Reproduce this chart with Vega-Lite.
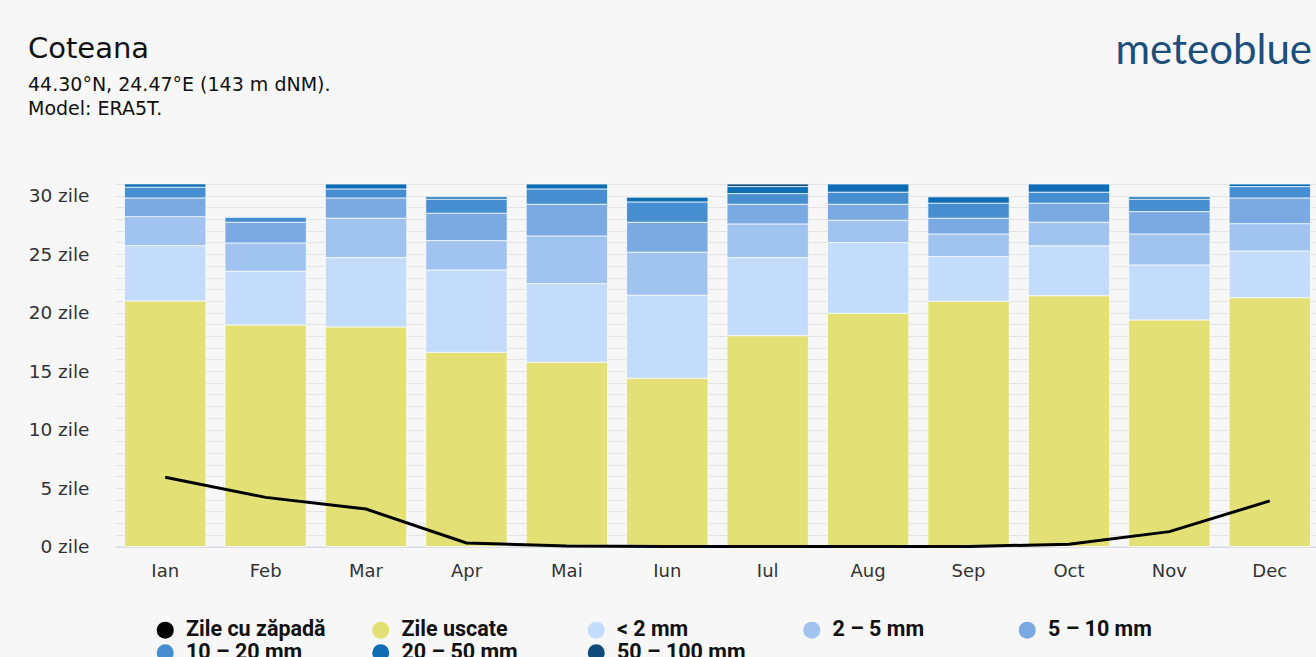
{
  "$schema": "https://vega.github.io/schema/vega-lite/v6.json",
  "width": 1205,
  "height": 362.5,
  "autosize": {"type": "none"},
  "padding": {"left": 115, "top": 184, "right": 0, "bottom": 110.5},
  "background": "#f7f7f7",
  "config": {
    "axisY": {"labelOverlap": false},
    "view": {"stroke": null}
  },
  "title": {
    "text": "Coteana",
    "subtitle": ["44.30°N, 24.47°E (143 m dNM).", "Model: ERA5T."],
    "anchor": "start",
    "frame": "group",
    "dx": -87,
    "dy": 90,
    "font": "DejaVu Sans",
    "fontSize": 29,
    "fontWeight": "normal",
    "color": "#111111",
    "subtitleFont": "DejaVu Sans",
    "subtitleFontSize": 19,
    "subtitleColor": "#111111",
    "subtitlePadding": 12,
    "subtitleLineHeight": 24,
    "offset": 0
  },
  "datasets": {
    "bars": [
      {"m": "Ian", "c": "Zile uscate", "k": 0, "v": 21.0},
      {"m": "Ian", "c": "< 2 mm", "k": 1, "v": 4.73},
      {"m": "Ian", "c": "2 – 5 mm", "k": 2, "v": 2.48},
      {"m": "Ian", "c": "5 – 10 mm", "k": 3, "v": 1.60},
      {"m": "Ian", "c": "10 – 20 mm", "k": 4, "v": 0.92},
      {"m": "Ian", "c": "20 – 50 mm", "k": 5, "v": 0.28},
      {"m": "Feb", "c": "Zile uscate", "k": 0, "v": 18.95},
      {"m": "Feb", "c": "< 2 mm", "k": 1, "v": 4.59},
      {"m": "Feb", "c": "2 – 5 mm", "k": 2, "v": 2.42},
      {"m": "Feb", "c": "5 – 10 mm", "k": 3, "v": 1.77},
      {"m": "Feb", "c": "10 – 20 mm", "k": 4, "v": 0.43},
      {"m": "Feb", "c": "20 – 50 mm", "k": 5, "v": 0.05},
      {"m": "Mar", "c": "Zile uscate", "k": 0, "v": 18.78},
      {"m": "Mar", "c": "< 2 mm", "k": 1, "v": 5.93},
      {"m": "Mar", "c": "2 – 5 mm", "k": 2, "v": 3.37},
      {"m": "Mar", "c": "5 – 10 mm", "k": 3, "v": 1.73},
      {"m": "Mar", "c": "10 – 20 mm", "k": 4, "v": 0.77},
      {"m": "Mar", "c": "20 – 50 mm", "k": 5, "v": 0.42},
      {"m": "Apr", "c": "Zile uscate", "k": 0, "v": 16.61},
      {"m": "Apr", "c": "< 2 mm", "k": 1, "v": 7.04},
      {"m": "Apr", "c": "2 – 5 mm", "k": 2, "v": 2.51},
      {"m": "Apr", "c": "5 – 10 mm", "k": 3, "v": 2.34},
      {"m": "Apr", "c": "10 – 20 mm", "k": 4, "v": 1.20},
      {"m": "Apr", "c": "20 – 50 mm", "k": 5, "v": 0.20},
      {"m": "Mai", "c": "Zile uscate", "k": 0, "v": 15.76},
      {"m": "Mai", "c": "< 2 mm", "k": 1, "v": 6.72},
      {"m": "Mai", "c": "2 – 5 mm", "k": 2, "v": 4.08},
      {"m": "Mai", "c": "5 – 10 mm", "k": 3, "v": 2.71},
      {"m": "Mai", "c": "10 – 20 mm", "k": 4, "v": 1.31},
      {"m": "Mai", "c": "20 – 50 mm", "k": 5, "v": 0.42},
      {"m": "Iun", "c": "Zile uscate", "k": 0, "v": 14.39},
      {"m": "Iun", "c": "< 2 mm", "k": 1, "v": 7.10},
      {"m": "Iun", "c": "2 – 5 mm", "k": 2, "v": 3.68},
      {"m": "Iun", "c": "5 – 10 mm", "k": 3, "v": 2.56},
      {"m": "Iun", "c": "10 – 20 mm", "k": 4, "v": 1.74},
      {"m": "Iun", "c": "20 – 50 mm", "k": 5, "v": 0.40},
      {"m": "Iul", "c": "Zile uscate", "k": 0, "v": 18.03},
      {"m": "Iul", "c": "< 2 mm", "k": 1, "v": 6.68},
      {"m": "Iul", "c": "2 – 5 mm", "k": 2, "v": 2.88},
      {"m": "Iul", "c": "5 – 10 mm", "k": 3, "v": 1.68},
      {"m": "Iul", "c": "10 – 20 mm", "k": 4, "v": 0.91},
      {"m": "Iul", "c": "20 – 50 mm", "k": 5, "v": 0.60},
      {"m": "Iul", "c": "50 – 100 mm", "k": 6, "v": 0.22},
      {"m": "Aug", "c": "Zile uscate", "k": 0, "v": 19.95},
      {"m": "Aug", "c": "< 2 mm", "k": 1, "v": 6.04},
      {"m": "Aug", "c": "2 – 5 mm", "k": 2, "v": 1.91},
      {"m": "Aug", "c": "5 – 10 mm", "k": 3, "v": 1.37},
      {"m": "Aug", "c": "10 – 20 mm", "k": 4, "v": 1.03},
      {"m": "Aug", "c": "20 – 50 mm", "k": 5, "v": 0.70},
      {"m": "Sep", "c": "Zile uscate", "k": 0, "v": 20.98},
      {"m": "Sep", "c": "< 2 mm", "k": 1, "v": 3.81},
      {"m": "Sep", "c": "2 – 5 mm", "k": 2, "v": 1.94},
      {"m": "Sep", "c": "5 – 10 mm", "k": 3, "v": 1.35},
      {"m": "Sep", "c": "10 – 20 mm", "k": 4, "v": 1.28},
      {"m": "Sep", "c": "20 – 50 mm", "k": 5, "v": 0.54},
      {"m": "Oct", "c": "Zile uscate", "k": 0, "v": 21.45},
      {"m": "Oct", "c": "< 2 mm", "k": 1, "v": 4.26},
      {"m": "Oct", "c": "2 – 5 mm", "k": 2, "v": 2.02},
      {"m": "Oct", "c": "5 – 10 mm", "k": 3, "v": 1.63},
      {"m": "Oct", "c": "10 – 20 mm", "k": 4, "v": 0.94},
      {"m": "Oct", "c": "20 – 50 mm", "k": 5, "v": 0.70},
      {"m": "Nov", "c": "Zile uscate", "k": 0, "v": 19.38},
      {"m": "Nov", "c": "< 2 mm", "k": 1, "v": 4.70},
      {"m": "Nov", "c": "2 – 5 mm", "k": 2, "v": 2.65},
      {"m": "Nov", "c": "5 – 10 mm", "k": 3, "v": 1.91},
      {"m": "Nov", "c": "10 – 20 mm", "k": 4, "v": 1.06},
      {"m": "Nov", "c": "20 – 50 mm", "k": 5, "v": 0.20},
      {"m": "Dec", "c": "Zile uscate", "k": 0, "v": 21.28},
      {"m": "Dec", "c": "< 2 mm", "k": 1, "v": 4.00},
      {"m": "Dec", "c": "2 – 5 mm", "k": 2, "v": 2.33},
      {"m": "Dec", "c": "5 – 10 mm", "k": 3, "v": 2.20},
      {"m": "Dec", "c": "10 – 20 mm", "k": 4, "v": 0.97},
      {"m": "Dec", "c": "20 – 50 mm", "k": 5, "v": 0.22}
    ],
    "snow": [
      {"m": "Ian", "v": 5.92},
      {"m": "Feb", "v": 4.2},
      {"m": "Mar", "v": 3.2},
      {"m": "Apr", "v": 0.3},
      {"m": "Mai", "v": 0.05},
      {"m": "Iun", "v": 0},
      {"m": "Iul", "v": 0},
      {"m": "Aug", "v": 0},
      {"m": "Sep", "v": 0},
      {"m": "Oct", "v": 0.2},
      {"m": "Nov", "v": 1.27},
      {"m": "Dec", "v": 3.9}
    ]
  },
  "encoding": {
    "x": {
      "field": "m",
      "type": "nominal",
      "sort": ["Ian", "Feb", "Mar", "Apr", "Mai", "Iun", "Iul", "Aug", "Sep", "Oct", "Nov", "Dec"],
      "scale": {"paddingInner": 0.19, "paddingOuter": 0.095},
      "axis": {
        "title": null,
        "labelAngle": 0,
        "ticks": false,
        "domainColor": "#ccd6eb",
        "domainWidth": 1,
        "labelFont": "DejaVu Sans",
        "labelFontSize": 18,
        "labelColor": "#333333",
        "labelPadding": 16
      }
    },
    "y": {
      "field": "v",
      "type": "quantitative",
      "scale": {"domain": [0, 31], "nice": false, "zero": true},
      "axis": {
        "values": [0,1,2,3,4,5,6,7,8,9,10,11,12,13,14,15,16,17,18,19,20,21,22,23,24,25,26,27,28,29,30,31],
        "labelExpr": "datum.value % 5 === 0 ? datum.value + ' zile' : ''",
        "labelOverlap": false,
        "labelBound": false,
        "grid": true,
        "gridColor": "#e4e4e4",
        "gridWidth": 1.2,
        "ticks": false,
        "domain": false,
        "labelFont": "DejaVu Sans",
        "labelFontSize": 18.5,
        "labelColor": "#333333",
        "labelPadding": 26,
        "title": "meteoblue",
        "titleAngle": 0,
        "titleX": 1000,
        "titleY": -121,
        "titleAlign": "left",
        "titleBaseline": "alphabetic",
        "titleFont": "Lato",
        "titleFontSize": 42,
        "titleFontWeight": "normal",
        "titleColor": "#1d4f7c"
      }
    }
  },
  "layer": [
    {
      "data": {"name": "bars"},
      "mark": {"type": "bar", "stroke": "#ffffff", "strokeWidth": 0.8, "strokeOpacity": 0.9},
      "encoding": {
        "color": {
          "field": "c",
          "type": "nominal",
          "scale": {
            "domain": ["Zile cu zăpadă", "Zile uscate", "< 2 mm", "2 – 5 mm", "5 – 10 mm", "10 – 20 mm", "20 – 50 mm", "50 – 100 mm"],
            "range": ["#000000", "#e3e076", "#c4dcfb", "#a1c3ef", "#7aaae1", "#478ed0", "#0f6db3", "#0d4c7d"]
          },
          "legend": {
            "orient": "none",
            "legendX": 39.5,
            "legendY": 435,
            "direction": "horizontal",
            "columns": 5,
            "title": null,
            "symbolType": "circle",
            "symbolSize": 289,
            "symbolStrokeWidth": 0,
            "labelFont": "Roboto",
            "labelFontSize": 21.5,
            "labelFontWeight": "bold",
            "labelColor": "#111111",
            "labelOffset": 10,
            "labelLimit": 300,
            "columnPadding": 43.5,
            "rowPadding": 0,
            "gridAlign": "all"
          }
        },
        "order": {"field": "k", "type": "quantitative"}
      }
    },
    {
      "data": {"name": "snow"},
      "mark": {"type": "line", "strokeWidth": 3, "interpolate": "linear"},
      "encoding": {
        "color": {"datum": "Zile cu zăpadă"}
      }
    }
  ]
}
